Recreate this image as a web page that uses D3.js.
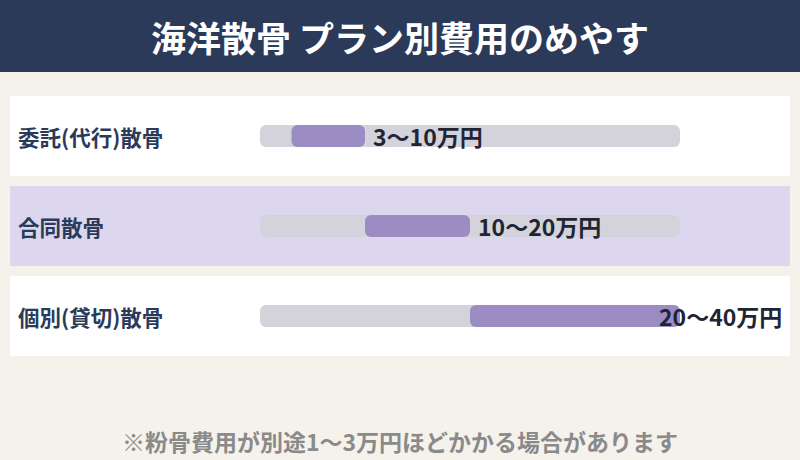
<!DOCTYPE html>
<html><head><meta charset="utf-8">
<script src="https://cdn.jsdelivr.net/npm/d3@7"></script>
<style>body{margin:0;background:#f5f2ec}svg{display:block}</style>
</head><body>
<svg id="c" width="800" height="460"></svg>
<script>
const title = "海洋散骨 プラン別費用のめやす";
const categories = ["委託(代行)散骨", "合同散骨", "個別(貸切)散骨"];
const lows = [3, 10, 20];
const highs = [10, 20, 40];
const valueLabels = ["3〜10万円", "10〜20万円", "20〜40万円"];
const highlight = [false, true, false];
const note = "※粉骨費用が別途1〜3万円ほどかかる場合があります";

const font = "'Noto Sans CJK JP','Noto Sans',sans-serif";
const svg = d3.select("#c");
svg.append("rect").attr("width",800).attr("height",460).attr("fill","#f5f2ec");
svg.append("rect").attr("width",800).attr("height",72).attr("fill","#2c3a5a");
svg.append("text").attr("x",400).attr("y",36).attr("text-anchor","middle").attr("dominant-baseline","central")
  .attr("fill","#fff").attr("font-family",font).attr("font-weight",700).attr("font-size",35).text(title);

const x = d3.scaleLinear().domain([0,40]).range([260,680]);
const y = d3.scaleBand().domain(categories).range([91,361]).paddingInner(10/90).paddingOuter(5/90);
const g = svg.selectAll("g.row").data(categories).enter().append("g");
g.append("rect").attr("x",10).attr("width",780).attr("y",d=>y(d)).attr("height",y.bandwidth())
  .attr("fill",(d,i)=>highlight[i]?"#dcd6ef":"#ffffff");
g.append("text").attr("x",18).attr("y",d=>y(d)+y.bandwidth()/2).attr("dominant-baseline","central")
  .attr("fill","#2c3a5a").attr("font-family",font).attr("font-weight",700).attr("font-size",21.5).text(d=>d);
g.append("rect").attr("x",x(0)).attr("width",x(40)-x(0)).attr("y",d=>y(d)+y.bandwidth()/2-11).attr("height",22)
  .attr("rx",6).attr("fill","#d4d3dc");
g.append("rect").attr("x",(d,i)=>x(lows[i])).attr("width",(d,i)=>x(highs[i])-x(lows[i]))
  .attr("y",d=>y(d)+y.bandwidth()/2-11).attr("height",22).attr("rx",6).attr("fill","#9b8cc4");
g.append("text").attr("x",(d,i)=>Math.min(x(highs[i])+8,659)).attr("y",d=>y(d)+y.bandwidth()/2)
  .attr("dominant-baseline","central").attr("fill","#1f2535").attr("font-family",font).attr("font-weight",700)
  .attr("font-size",23).text((d,i)=>valueLabels[i]);
svg.append("text").attr("x",400).attr("y",441).attr("text-anchor","middle").attr("dominant-baseline","central")
  .attr("fill","#8a8a8a").attr("font-family",font).attr("font-weight",700).attr("font-size",23).text(note);
</script>
</body></html>
